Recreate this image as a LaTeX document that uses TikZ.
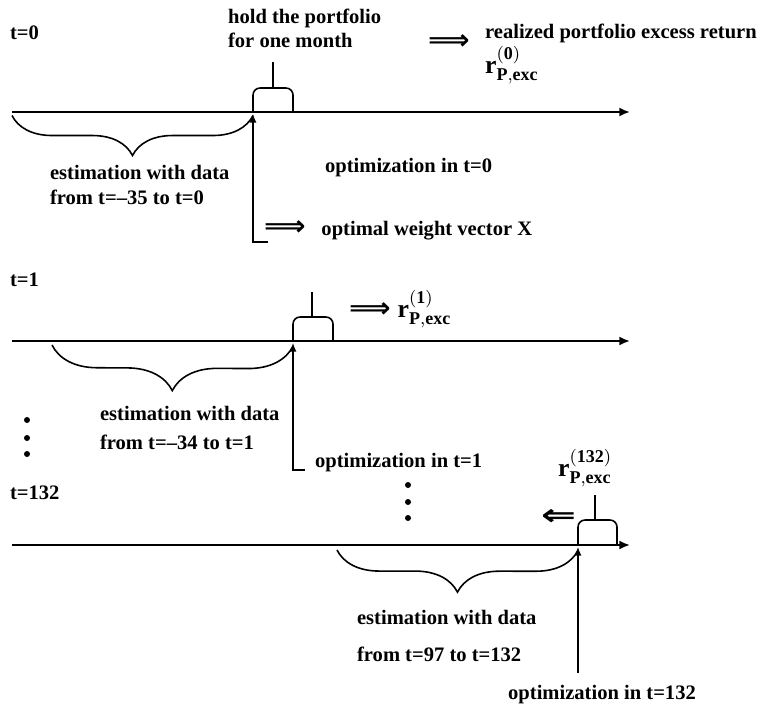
\documentclass[tikz,border=0pt]{standalone}
\usepackage{fontspec}
\setmainfont{Liberation Serif}
\newfontfamily\arrowfont{DejaVu Sans}
\usepackage{amsmath}
\usepackage{graphicx}
\usetikzlibrary{arrows.meta, positioning, decorations.pathreplacing}

\newcommand{\impl}{\scalebox{1.1}[1.05]{\arrowfont\fontsize{15}{15}\selectfont ⟹}}
\newcommand{\retsym}[1]{\scalebox{1.25}{$\mathbf{r}^{\mathbf{(#1)}}_{\mathbf{P,exc}}$}}

\begin{document}
\begin{tikzpicture}[
  lbl/.style={font=\fontsize{11.7}{13.5}\selectfont\bfseries, inner sep=1pt,
              align=left, anchor=west},
  axis/.style={-{Latex[length=6pt,width=5pt]}, line width=1.1pt},
  arr/.style={-{Latex[length=5pt,width=4pt]}, line width=0.9pt},
  est/.style={decorate, decoration={brace, amplitude=#1}, line width=0.9pt},
  hold/.style={rounded corners=4pt, line width=0.9pt}
]
\useasboundingbox (0,0) rectangle (15.16,-14.14);

% --- t=0
\node[lbl] (t0) at (0.16,-0.66) {t=0};
\node[lbl] (hold0) at (4.52,-0.57) {hold the portfolio\\for one month};
\node[lbl] (imp0) at (8.52,-0.84) {\impl};
\node[lbl] (real0) at (9.66,-0.66) {realized portfolio excess return};
\node[lbl] (r0) at (9.66,-1.30) {\retsym{0}};

\coordinate (ax0s) at (0.24,-2.24);
\coordinate (ax0e) at (12.60,-2.24);
\coordinate (now0) at (5.06,-2.24);
\coordinate (end0) at (5.86,-2.24);
\coordinate (top0) at (5.46,-1.24);
\draw[axis] (ax0s) -- (ax0e);
\draw[hold] (now0) -- ++(0,0.48) -- ++(0.80,0) -- (end0);
\draw[line width=0.9pt] (top0) -- ++(0,-0.52);
\draw[est=0.8cm] ([yshift=-2pt]now0) -- ([yshift=-2pt]ax0s);

\node[lbl] (est0) at (0.96,-3.70) {estimation with data\\[0.7pt]from t=--35 to t=0};
\node[lbl] (opt0) at (6.46,-3.36) {optimization in t=0};
\node[lbl] (wgt0) at (5.24,-4.60) {\impl\hspace{9pt}optimal weight vector X};
\coordinate (bot0) at (5.06,-4.84);
\draw[arr] (5.36,-4.84) coordinate (turn0) (turn0) -- (bot0) -- ([yshift=-1pt]now0);

% --- t=1
\node[lbl] (t1) at (0.16,-5.60) {t=1};
\coordinate (ax1s) at (0.24,-6.82);
\coordinate (ax1e) at (12.60,-6.82);
\coordinate (now1) at (5.86,-6.82);
\coordinate (end1) at (6.66,-6.82);
\coordinate (top1) at (6.24,-5.84);
\draw[axis] (ax1s) -- (ax1e);
\draw[hold] (now1) -- ++(0,0.48) -- ++(0.80,0) -- (end1);
\draw[line width=0.9pt] (top1) -- ++(0,-0.50);
\node[lbl] (r1) at (6.94,-6.18) {\impl\hspace{4pt}\retsym{1}};
\draw[est=0.9cm] ([yshift=-3pt]now1) -- (1.04,-6.90);

\node[lbl] (est1) at (1.96,-8.56) {estimation with data\\[3.5pt]from t=--34 to t=1};
\foreach \y in {-8.40,-8.76,-9.08}
  \fill (0.54,\y) circle (0.06);
\node[lbl] (opt1) at (6.26,-9.26) {optimization in t=1};
\coordinate (bot1) at (5.86,-9.40);
\draw[arr] (6.10,-9.40) coordinate (turn1) (turn1) -- (bot1) -- ([yshift=-1pt]now1);

% --- t=132
\node[lbl] (t132) at (0.16,-9.86) {t=132};
\node[lbl] (r132) at (11.12,-9.36) {\retsym{132}};
\foreach \y in {-9.70,-10.04,-10.36}
  \fill (8.16,\y) circle (0.06);
\node[lbl] (imp132) at (10.78,-10.34)
  {\scalebox{1.4}[1]{\arrowfont\fontsize{17}{17}\selectfont ⇐}};

\coordinate (ax2s) at (0.24,-10.90);
\coordinate (ax2e) at (12.60,-10.90);
\coordinate (now2) at (11.56,-10.90);
\coordinate (end2) at (12.34,-10.90);
\coordinate (top2) at (11.90,-9.90);
\draw[axis] (ax2s) -- (ax2e);
\draw[hold] (now2) -- ++(0,0.50) -- ++(0.78,0) -- (end2);
\draw[line width=0.9pt] (top2) -- ++(0,-0.50);
\draw[est=0.84cm] ([yshift=-3pt]now2) -- (6.74,-11.00);

\node[lbl] (est132) at (7.10,-12.72) {estimation with data\\[8pt]from t=97 to t=132};
\node[lbl, anchor=center] (opt132) at (12.04,-13.90) {optimization in t=132};
\coordinate (bot2) at (11.56,-13.46);
\draw[arr] (bot2) -- ([yshift=-1pt]now2);
\end{tikzpicture}
\end{document}
